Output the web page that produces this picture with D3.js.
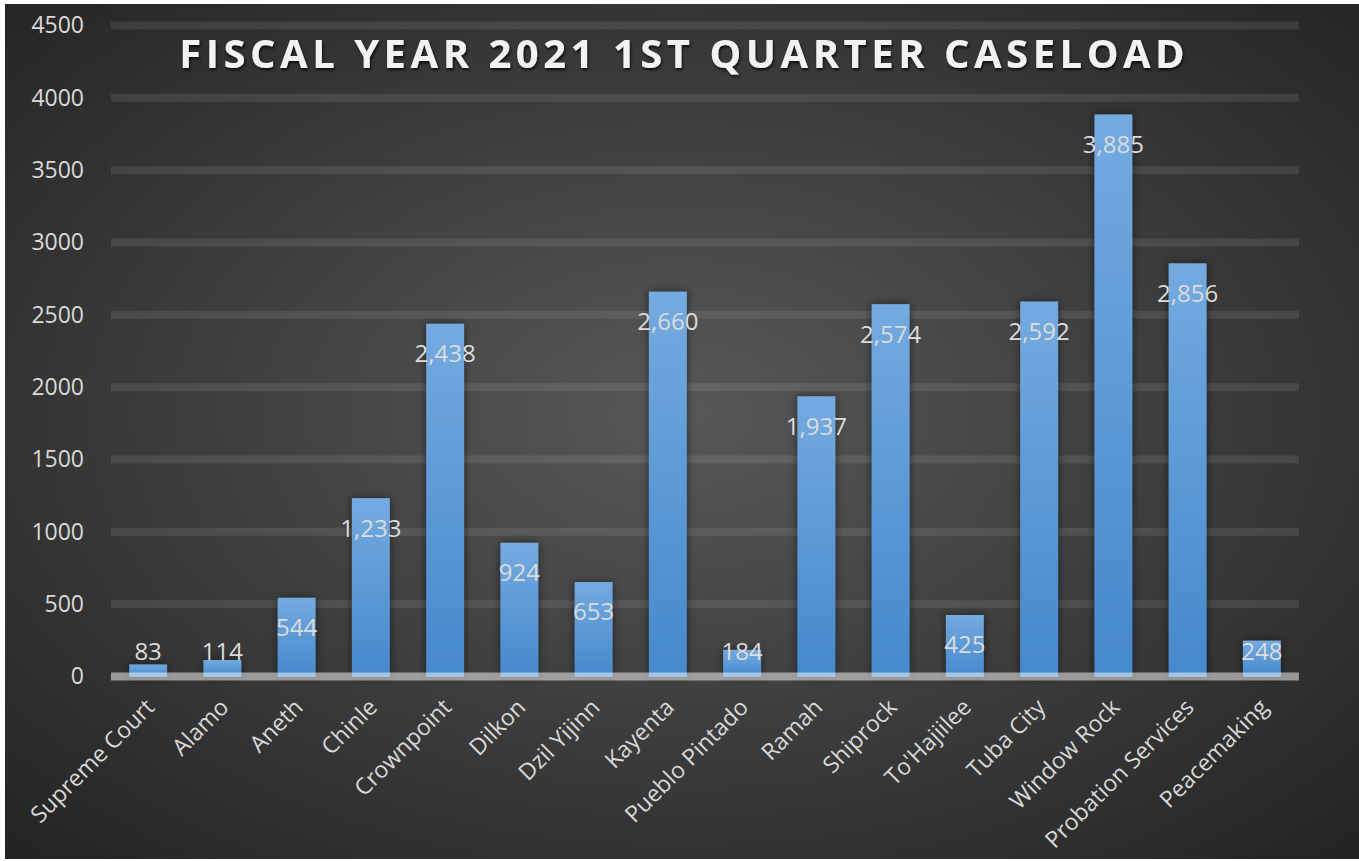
<!DOCTYPE html>
<html>
<head>
<meta charset="utf-8">
<script src="https://cdn.jsdelivr.net/npm/d3@7"></script>
<style>
  html, body { margin: 0; padding: 0; background: #fff; }
  svg { display: block; font-family: "Open Sans", "Noto Sans", sans-serif; }
</style>
</head>
<body>
<div id="chart"></div>
<script>
const courts = ["Supreme Court", "Alamo", "Aneth", "Chinle", "Crownpoint", "Dilkon", "Dzil Yijinn", "Kayenta",
  "Pueblo Pintado", "Ramah", "Shiprock", "To'Hajiilee", "Tuba City", "Window Rock", "Probation Services", "Peacemaking"];
const caseload = [83, 114, 544, 1233, 2438, 924, 653, 2660, 184, 1937, 2574, 425, 2592, 3885, 2856, 248];
const yTicks = [0, 500, 1000, 1500, 2000, 2500, 3000, 3500, 4000, 4500];
const title = "FISCAL YEAR 2021 1ST QUARTER CASELOAD";

const width = 1359, height = 861;
const margin = {top: 25.5, bottom: 184.5, left: 111, right: 60};

const data = courts.map((c, i) => ({court: c, value: caseload[i]}));
const fmt = d3.format(",");

const svg = d3.select("#chart").append("svg")
  .attr("width", width)
  .attr("height", height);

const defs = svg.append("defs");

const bg = defs.append("radialGradient")
  .attr("id", "bg")
  .attr("cx", "50%").attr("cy", "48%").attr("r", "72%");
bg.append("stop").attr("offset", "0%").attr("stop-color", "#585858");
bg.append("stop").attr("offset", "100%").attr("stop-color", "#232323");

const barGrad = defs.append("linearGradient")
  .attr("id", "barGrad")
  .attr("x1", 0).attr("y1", 0).attr("x2", 0).attr("y2", 1);
barGrad.append("stop").attr("offset", "0%").attr("stop-color", "#74aae0");
barGrad.append("stop").attr("offset", "100%").attr("stop-color", "#4589cc");

const shadow = defs.append("filter").attr("id", "barShadow")
  .attr("x", "-50%").attr("y", "-20%").attr("width", "200%").attr("height", "140%");
shadow.append("feDropShadow")
  .attr("dx", 0).attr("dy", 0).attr("stdDeviation", 4)
  .attr("flood-color", "#000").attr("flood-opacity", 0.55);

const titleShadow = defs.append("filter").attr("id", "titleShadow")
  .attr("x", "-5%").attr("y", "-30%").attr("width", "110%").attr("height", "160%");
titleShadow.append("feDropShadow")
  .attr("dx", 1).attr("dy", 2).attr("stdDeviation", 1.5)
  .attr("flood-color", "#000").attr("flood-opacity", 0.8);

svg.append("rect")
  .attr("x", 5).attr("y", 4)
  .attr("width", width - 5).attr("height", height - 6)
  .attr("fill", "url(#bg)");

const xScale = d3.scaleBand()
  .domain(courts)
  .range([margin.left, width - margin.right])
  .paddingInner(0.49)
  .paddingOuter(0.245);

const yScale = d3.scaleLinear()
  .domain([0, 4500])
  .range([height - margin.bottom, margin.top]);

// gridlines
svg.append("g")
  .selectAll("line")
  .data(yTicks.filter(d => d > 0))
  .join("line")
  .attr("x1", margin.left)
  .attr("x2", width - margin.right)
  .attr("y1", d => yScale(d))
  .attr("y2", d => yScale(d))
  .attr("stroke", "rgba(255,255,255,0.09)")
  .attr("stroke-width", 8);

// y axis labels
const yAxis = d3.axisLeft(yScale).tickValues(yTicks).tickFormat(d3.format("d")).tickSize(0).tickPadding(0);
svg.append("g")
  .attr("transform", "translate(84,0)")
  .call(yAxis)
  .call(g => g.select(".domain").remove())
  .selectAll("text")
  .attr("fill", "#d9d9d9")
  .attr("font-size", 23)
  .attr("font-family", "'Open Sans', sans-serif");

// bars
svg.append("g")
  .attr("filter", "url(#barShadow)")
  .selectAll("rect")
  .data(data)
  .join("rect")
  .attr("class", "bar")
  .attr("x", d => xScale(d.court))
  .attr("width", xScale.bandwidth())
  .attr("y", d => yScale(d.value))
  .attr("height", d => yScale(0) - yScale(d.value) + 0.5)
  .attr("fill", "url(#barGrad)");

// baseline
svg.append("line")
  .attr("x1", margin.left)
  .attr("x2", width - margin.right)
  .attr("y1", yScale(0))
  .attr("y2", yScale(0))
  .attr("stroke", "rgba(255,255,255,0.5)")
  .attr("stroke-width", 8);

// value labels
svg.append("g")
  .selectAll("text")
  .data(data)
  .join("text")
  .attr("x", d => xScale(d.court) + xScale.bandwidth() / 2)
  .attr("y", d => Math.min(yScale(d.value) + 30, yScale(0) - 25))
  .attr("dy", "0.35em")
  .attr("text-anchor", "middle")
  .attr("fill", "#dcdcdc")
  .attr("font-size", 24)
  .text(d => fmt(d.value));

// category labels
svg.append("g")
  .selectAll("text")
  .data(data)
  .join("text")
  .attr("transform", d => "translate(" + (xScale(d.court) + xScale.bandwidth() / 2 + 2) + "," + 703 + ") rotate(-45)")
  .attr("dy", "0.35em")
  .attr("text-anchor", "end")
  .attr("fill", "#d9d9d9")
  .attr("font-size", 23)
  .text(d => d.court);

// title
const t = svg.append("text")
  .attr("x", 682)
  .attr("y", 68)
  .attr("text-anchor", "middle")
  .attr("fill", "#f2f2f2")
  .attr("font-size", 40)
  .attr("font-weight", "bold")
  .attr("filter", "url(#titleShadow)")
  .text(title);
const tw = t.node().getComputedTextLength();
t.attr("letter-spacing", ((1010 - tw) / title.length) + "px")
  .attr("x", 682 + ((1010 - tw) / title.length) / 2);
</script>
</body>
</html>
